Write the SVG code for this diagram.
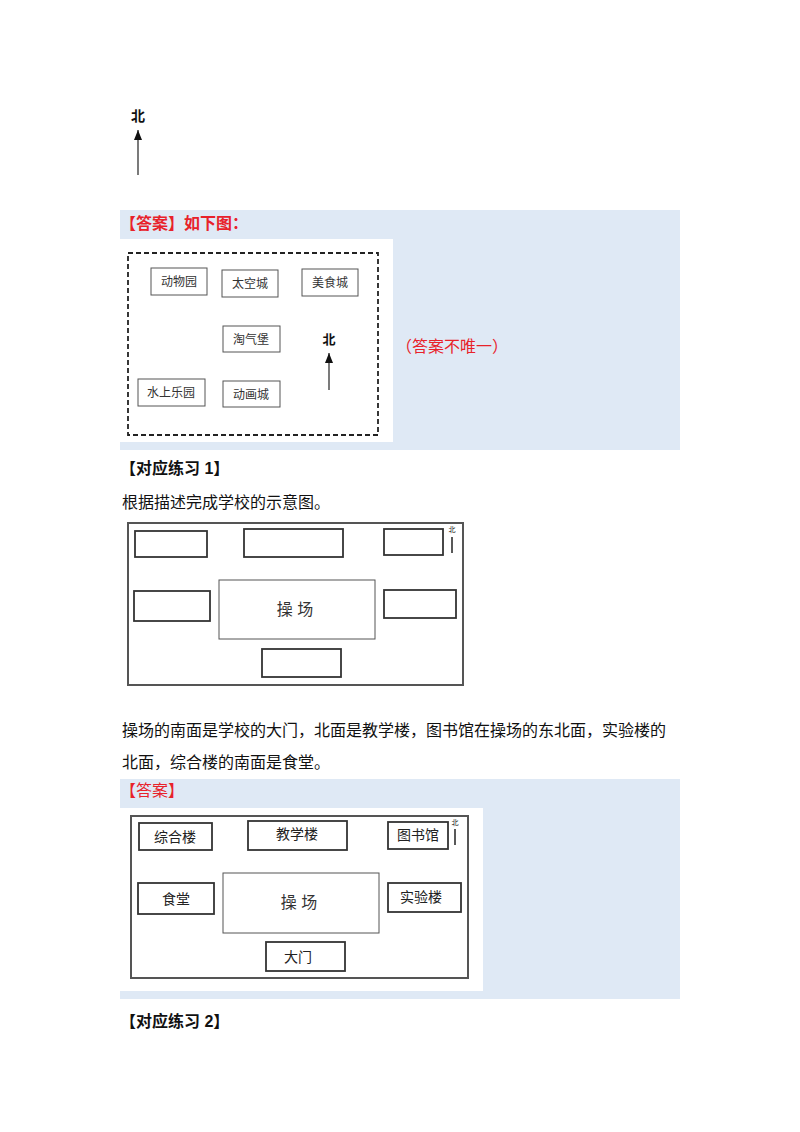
<svg xmlns="http://www.w3.org/2000/svg" width="800" height="1132" viewBox="0 0 800 1132">
<defs>
<style>
text{font-family:"Liberation Sans","Noto Sans CJK SC",sans-serif;fill:#111}
.red{fill:#e8222a}
.h{font-size:16px;font-weight:bold}
.p{font-size:16px}
.lab{font-size:12px;fill:#333;text-anchor:middle}
.lab2{font-size:14px;fill:#222;text-anchor:middle}
.box{fill:#fff;stroke:#555;stroke-width:1}
.box2{fill:#fff;stroke:#333;stroke-width:1.8}
.outer{fill:#fff;stroke:#555;stroke-width:2}
.panel{fill:#dfe9f5}
</style>
<marker id="ah" markerWidth="10" markerHeight="8" refX="10" refY="4" orient="auto" markerUnits="userSpaceOnUse" viewBox="0 0 10 8">
<path d="M0,0 L10,4 L0,8 Z" fill="#111"/>
</marker>
</defs>
<rect width="800" height="1132" fill="#fff"/>

<g id="north-top">
<text x="138" y="121" style="font-size:14px;font-weight:bold" text-anchor="middle">北</text>
<line x1="138" y1="175" x2="138" y2="130" stroke="#222" stroke-width="1.2" marker-end="url(#ah)"/>
</g>

<g id="answer1">
<rect class="panel" x="120" y="210" width="560" height="240"/>
<text class="red h" x="120" y="229">【答案】如下图：</text>
<rect x="120" y="239" width="273" height="203" fill="#fff"/>
<rect x="128" y="253" width="250" height="182" fill="none" stroke="#222" stroke-width="1.8" stroke-dasharray="5,3"/>
<text class="red" x="396" y="352" style="font-size:16px">（答案不唯一）</text>
</g>
<g id="n-dongwuyuan"><rect class="box" x="151" y="268" width="56" height="27"/><text class="lab" x="179" y="286">动物园</text></g>
<g id="n-taikongcheng"><rect class="box" x="222" y="270" width="56" height="27"/><text class="lab" x="250" y="288">太空城</text></g>
<g id="n-meishicheng"><rect class="box" x="302" y="269" width="56" height="27"/><text class="lab" x="330" y="287">美食城</text></g>
<g id="n-taoqibao"><rect class="box" x="223" y="326" width="57" height="26"/><text class="lab" x="251" y="344">淘气堡</text></g>
<g id="n-shuishangleyuan"><rect class="box" x="138" y="379" width="67" height="27"/><text class="lab" x="171" y="397">水上乐园</text></g>
<g id="n-donghuacheng"><rect class="box" x="223" y="381" width="57" height="26"/><text class="lab" x="251" y="399">动画城</text></g>
<g id="north-1">
<text x="329" y="344" style="font-size:13px;font-weight:bold" text-anchor="middle">北</text>
<line x1="329" y1="390" x2="329" y2="353" stroke="#222" stroke-width="1.2" marker-end="url(#ah)"/>
</g>

<g id="ex1-head">
<text class="h" x="120" y="474">【对应练习 1】</text>
<text class="p" x="122" y="508">根据描述完成学校的示意图。</text>
</g>

<g id="school-blank">
<rect class="outer" x="128" y="523" width="335" height="162"/>
<rect class="box2" x="135" y="531" width="72" height="26"/>
<rect class="box2" x="244" y="529" width="99" height="28"/>
<rect class="box2" x="384" y="529" width="59" height="26"/>
<text x="452" y="532" style="font-size:7px;fill:#222" text-anchor="middle">北</text>
<line x1="452" y1="537" x2="452" y2="553" stroke="#222" stroke-width="1.5"/>
<rect class="box2" x="134" y="591" width="76" height="30"/>
<rect class="box" x="219" y="580" width="156" height="59" stroke-width="1.4"/>
<text x="295" y="615" style="font-size:16px;fill:#333" text-anchor="middle">操 场</text>
<rect class="box2" x="384" y="590" width="72" height="28"/>
<rect class="box2" x="262" y="649" width="79" height="28"/>
</g>

<g id="description">
<text class="p" x="122" y="736">操场的南面是学校的大门，北面是教学楼，图书馆在操场的东北面，实验楼的</text>
<text class="p" x="122" y="768">北面，综合楼的南面是食堂。</text>
</g>

<g id="answer2">
<rect class="panel" x="120" y="779" width="560" height="220"/>
<text class="red" x="120" y="796" style="font-size:16px">【答案】</text>
<rect x="120" y="808" width="363" height="183" fill="#fff"/>
<rect class="outer" x="131" y="816" width="337" height="162"/>
</g>
<g id="a-zonghelou"><rect class="box2" x="139" y="823" width="73" height="27"/><text class="lab2" x="175" y="842">综合楼</text></g>
<g id="a-jiaoxuelou"><rect class="box2" x="248" y="821" width="99" height="29"/><text class="lab2" x="297" y="839">教学楼</text></g>
<g id="a-tushuguan"><rect class="box2" x="388" y="822" width="60" height="27"/><text class="lab2" x="418" y="840">图书馆</text></g>
<g id="a-north">
<text x="455" y="825" style="font-size:7px;fill:#222" text-anchor="middle">北</text>
<line x1="455" y1="829" x2="455" y2="845" stroke="#222" stroke-width="1.5"/>
</g>
<g id="a-shitang"><rect class="box2" x="138" y="883" width="76" height="31"/><text class="lab2" x="176" y="904">食堂</text></g>
<g id="a-caochang"><rect class="box" x="223" y="873" width="156" height="60" stroke-width="1.4"/><text x="299" y="908" style="font-size:16px;fill:#333" text-anchor="middle">操 场</text></g>
<g id="a-shiyanlou"><rect class="box2" x="388" y="883" width="73" height="29"/><text class="lab2" x="421" y="902">实验楼</text></g>
<g id="a-damen"><rect class="box2" x="266" y="942" width="79" height="29"/><text class="lab2" x="298" y="962">大门</text></g>

<g id="ex2-head">
<text class="h" x="120" y="1027">【对应练习 2】</text>
</g>
</svg>
